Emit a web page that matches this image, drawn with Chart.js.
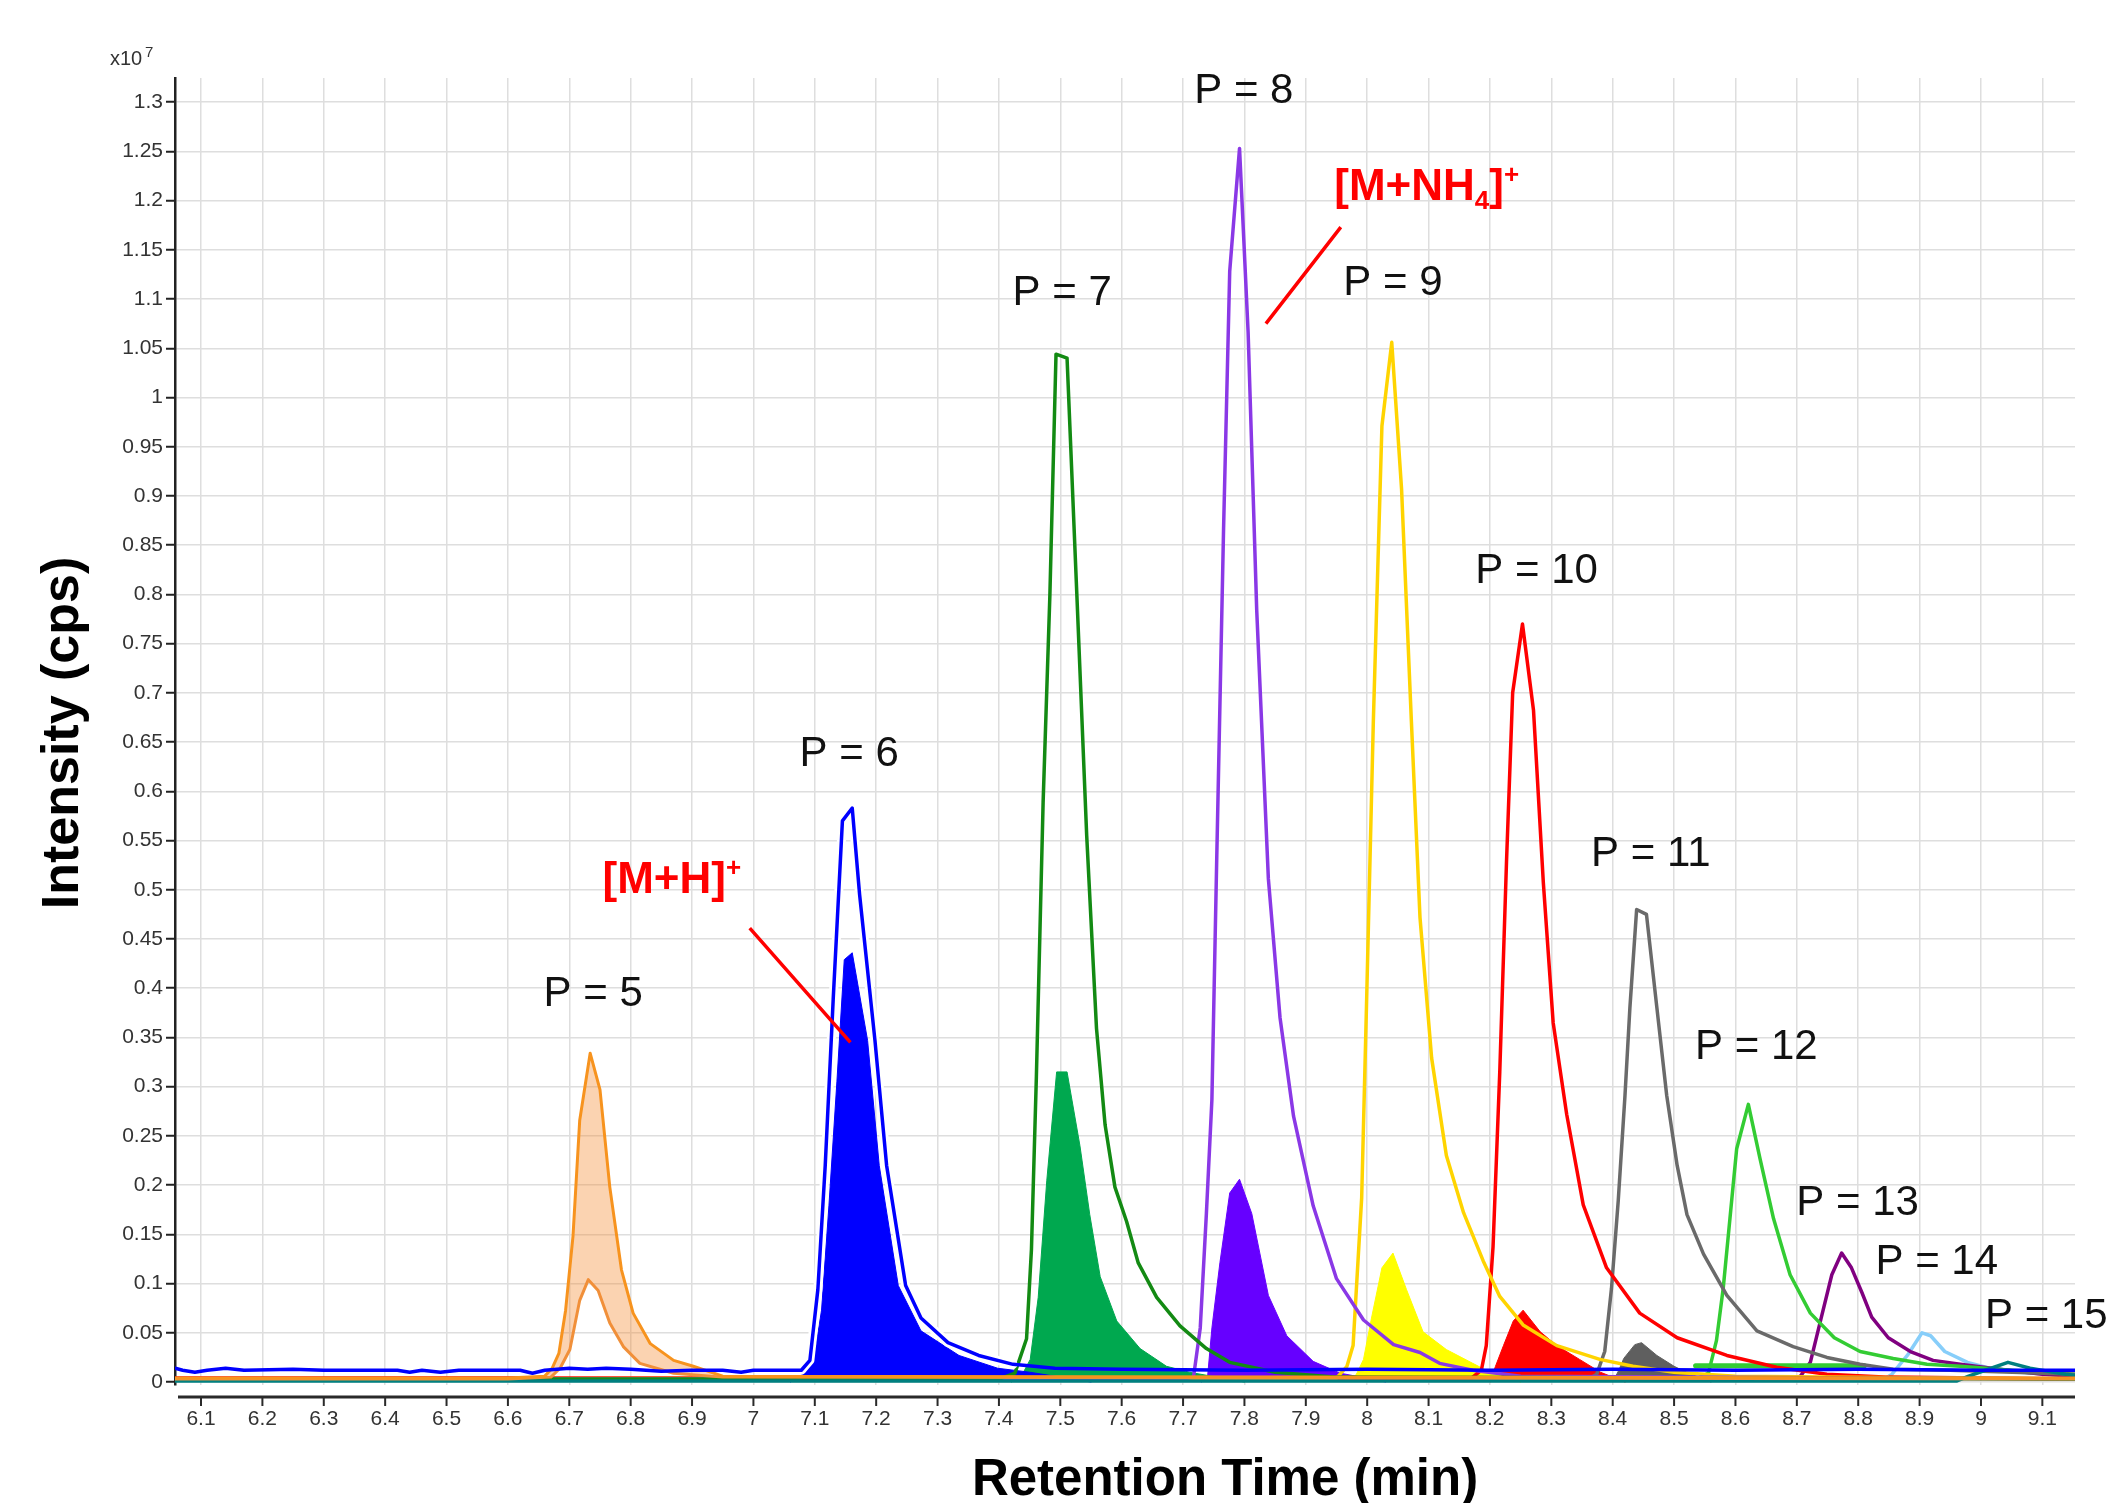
<!DOCTYPE html>
<html lang="en">
<head>
    <meta charset="UTF-8">
    <title>Retention Time Chromatogram</title>
    <script src="https://cdnjs.cloudflare.com/ajax/libs/Chart.js/4.4.1/chart.umd.min.js"></script>
    <style>
        body { margin: 0; padding: 0; background: #fff; }
        .chart-container { width: 2106px; height: 1503px; position: relative; }
    </style>
</head>
<body>
    <div class="chart-container">
        <canvas id="chromChart"></canvas>
    </div>

    <script>
        // axis ticks (intensity in units of 1e7 cps)
        const xTicks = [6.1, 6.2, 6.3, 6.4, 6.5, 6.6, 6.7, 6.8, 6.9, 7, 7.1, 7.2, 7.3, 7.4, 7.5, 7.6, 7.7, 7.8, 7.9, 8, 8.1, 8.2, 8.3, 8.4, 8.5, 8.6, 8.7, 8.8, 8.9, 9, 9.1];
        const yTicks = [0, 0.05, 0.1, 0.15, 0.2, 0.25, 0.3, 0.35, 0.4, 0.45, 0.5, 0.55, 0.6, 0.65, 0.7, 0.75, 0.8, 0.85, 0.9, 0.95, 1, 1.05, 1.1, 1.15, 1.2, 1.25, 1.3];

        // P = 5 (outer and inner trace, shaded between)
        const t5 = [6.058, 6.60, 6.66, 6.672, 6.683, 6.694, 6.706, 6.717, 6.734, 6.750, 6.766, 6.785, 6.804, 6.832, 6.870, 6.902, 6.95, 9.153];
        const v5 = [0.004, 0.004, 0.006, 0.014, 0.029, 0.073, 0.148, 0.266, 0.334, 0.297, 0.198, 0.114, 0.070, 0.039, 0.022, 0.016, 0.006, 0.004];
        const t5b = [6.058, 6.60, 6.67, 6.685, 6.701, 6.717, 6.731, 6.747, 6.766, 6.788, 6.815, 6.842, 6.87, 6.95, 9.153];
        const v5b = [0.003, 0.003, 0.005, 0.014, 0.033, 0.083, 0.104, 0.093, 0.060, 0.036, 0.019, 0.014, 0.009, 0.005, 0.003];

        // P = 6
        const t6 = [6.058, 6.07, 6.09, 6.11, 6.14, 6.17, 6.25, 6.30, 6.42, 6.44, 6.46, 6.49, 6.52, 6.62, 6.64, 6.66, 6.70, 6.73, 6.76, 6.80, 6.85, 6.90, 6.95, 6.98, 7.00, 7.078, 7.092, 7.105, 7.117, 7.130, 7.145, 7.161, 7.173, 7.198, 7.217, 7.248, 7.273, 7.317, 7.367, 7.423, 7.491, 7.6, 7.8, 8.0, 8.2, 8.4, 8.6, 8.8, 9.0, 9.153];
        const v6 = [0.014, 0.012, 0.010, 0.012, 0.014, 0.012, 0.013, 0.012, 0.012, 0.010, 0.012, 0.010, 0.012, 0.012, 0.009, 0.012, 0.014, 0.013, 0.014, 0.013, 0.011, 0.012, 0.012, 0.010, 0.012, 0.012, 0.022, 0.094, 0.220, 0.389, 0.570, 0.583, 0.495, 0.347, 0.220, 0.098, 0.065, 0.040, 0.027, 0.018, 0.014, 0.013, 0.012, 0.013, 0.012, 0.013, 0.012, 0.013, 0.012, 0.012];
        const t6f = [7.06, 7.085, 7.098, 7.111, 7.123, 7.136, 7.148, 7.161, 7.186, 7.205, 7.236, 7.273, 7.335, 7.398, 7.45, 7.55];
        const v6f = [0, 0.010, 0.022, 0.073, 0.179, 0.305, 0.429, 0.436, 0.347, 0.220, 0.098, 0.052, 0.027, 0.014, 0.010, 0];

        // P = 7
        const t7 = [6.058, 7.40, 7.426, 7.445, 7.453, 7.461, 7.472, 7.483, 7.493, 7.511, 7.527, 7.543, 7.559, 7.573, 7.589, 7.608, 7.627, 7.657, 7.695, 7.738, 7.776, 7.85, 7.95, 9.153];
        const v7 = [0.003, 0.003, 0.009, 0.044, 0.135, 0.310, 0.589, 0.799, 1.044, 1.040, 0.799, 0.555, 0.359, 0.261, 0.198, 0.163, 0.121, 0.086, 0.057, 0.034, 0.020, 0.010, 0.005, 0.003];
        const t7f = [7.42, 7.44, 7.451, 7.464, 7.478, 7.494, 7.511, 7.532, 7.548, 7.565, 7.592, 7.630, 7.673, 7.71, 7.80];
        const v7f = [0, 0.010, 0.023, 0.086, 0.205, 0.315, 0.315, 0.240, 0.170, 0.107, 0.062, 0.034, 0.016, 0.010, 0];

        // P = 8
        const t8 = [6.058, 7.70, 7.717, 7.728, 7.738, 7.747, 7.755, 7.766, 7.776, 7.792, 7.806, 7.820, 7.839, 7.858, 7.880, 7.912, 7.950, 7.994, 8.043, 8.086, 8.118, 8.172, 8.25, 9.153];
        const v8 = [0.003, 0.003, 0.005, 0.055, 0.171, 0.287, 0.536, 0.867, 1.128, 1.253, 1.066, 0.784, 0.511, 0.370, 0.270, 0.179, 0.105, 0.063, 0.038, 0.030, 0.019, 0.012, 0.006, 0.003];
        const t8f = [7.73, 7.740, 7.747, 7.760, 7.776, 7.792, 7.812, 7.839, 7.869, 7.912, 7.956, 7.99, 8.03];
        const v8f = [0, 0.006, 0.055, 0.121, 0.192, 0.206, 0.171, 0.088, 0.047, 0.021, 0.009, 0.005, 0];

        // P = 9
        const t9 = [6.058, 7.95, 7.967, 7.977, 7.991, 7.999, 8.010, 8.024, 8.040, 8.056, 8.072, 8.086, 8.105, 8.129, 8.157, 8.189, 8.216, 8.254, 8.309, 8.379, 8.433, 8.50, 8.60, 9.153];
        const v9 = [0.003, 0.004, 0.016, 0.037, 0.187, 0.386, 0.671, 0.971, 1.056, 0.907, 0.671, 0.472, 0.329, 0.230, 0.172, 0.123, 0.087, 0.058, 0.037, 0.023, 0.016, 0.010, 0.006, 0.003];
        const t9f = [7.975, 7.984, 7.994, 8.007, 8.024, 8.042, 8.064, 8.091, 8.129, 8.172, 8.20, 8.25];
        const v9f = [0, 0.010, 0.023, 0.065, 0.116, 0.131, 0.094, 0.051, 0.033, 0.019, 0.010, 0];

        // P = 10
        const t10 = [6.058, 8.17, 8.186, 8.194, 8.205, 8.216, 8.227, 8.237, 8.253, 8.271, 8.287, 8.303, 8.325, 8.352, 8.390, 8.444, 8.505, 8.586, 8.667, 8.749, 8.85, 9.153];
        const v10 = [0.004, 0.004, 0.012, 0.037, 0.137, 0.315, 0.529, 0.700, 0.770, 0.682, 0.507, 0.365, 0.272, 0.180, 0.116, 0.070, 0.045, 0.027, 0.015, 0.008, 0.005, 0.003];
        const t10f = [8.20, 8.209, 8.222, 8.238, 8.254, 8.282, 8.309, 8.346, 8.38, 8.42];
        const v10f = [0, 0.016, 0.037, 0.062, 0.073, 0.051, 0.037, 0.023, 0.010, 0];

        // P = 11
        const t11 = [6.058, 8.36, 8.374, 8.387, 8.398, 8.409, 8.420, 8.428, 8.439, 8.455, 8.472, 8.488, 8.505, 8.521, 8.548, 8.586, 8.635, 8.694, 8.749, 8.803, 8.857, 8.95, 9.153];
        const v11 = [0.003, 0.003, 0.008, 0.031, 0.095, 0.184, 0.291, 0.380, 0.480, 0.475, 0.380, 0.291, 0.220, 0.170, 0.130, 0.088, 0.052, 0.036, 0.025, 0.018, 0.013, 0.012, 0.008];
        const t11f = [8.40, 8.41, 8.418, 8.436, 8.447, 8.472, 8.500, 8.52, 8.56];
        const v11f = [0, 0.012, 0.024, 0.038, 0.040, 0.027, 0.016, 0.010, 0];

        // P = 12
        const t12 = [6.058, 8.54, 8.556, 8.569, 8.580, 8.591, 8.602, 8.621, 8.640, 8.662, 8.689, 8.722, 8.761, 8.803, 8.857, 8.912, 8.966, 9.05, 9.153];
        const v12 = [0.003, 0.004, 0.009, 0.042, 0.095, 0.166, 0.237, 0.282, 0.227, 0.166, 0.109, 0.070, 0.045, 0.031, 0.024, 0.018, 0.016, 0.012, 0.008];
        const t12b = [8.535, 8.81];
        const v12b = [0.0165, 0.0165];

        // P = 13
        const t13 = [6.058, 8.69, 8.706, 8.722, 8.740, 8.757, 8.773, 8.789, 8.806, 8.822, 8.849, 8.885, 8.922, 8.966, 9.03, 9.10, 9.153];
        const v13 = [0.003, 0.003, 0.006, 0.020, 0.066, 0.109, 0.131, 0.116, 0.091, 0.066, 0.045, 0.031, 0.022, 0.018, 0.013, 0.008, 0.006];

        // P = 14
        const t14 = [6.058, 8.84, 8.855, 8.880, 8.904, 8.918, 8.941, 8.978, 9.014, 9.065, 9.153];
        const v14 = [0.002, 0.002, 0.008, 0.027, 0.050, 0.047, 0.031, 0.020, 0.014, 0.010, 0.006];

        // P = 15
        const t15 = [6.058, 8.96, 8.98, 9.007, 9.044, 9.080, 9.138, 9.153];
        const v15 = [0.001, 0.001, 0.006, 0.012, 0.020, 0.014, 0.008, 0.007];

        // peak labels
        const peakLabels = ['P = 5', 'P = 6', 'P = 7', 'P = 8', 'P = 9', 'P = 10', 'P = 11', 'P = 12', 'P = 13', 'P = 14'];
        const peakLabelAt = [[6.739, 0.394], [7.156, 0.637], [7.503, 1.106], [7.799, 1.311], [8.042, 1.116], [8.276, 0.823], [8.462, 0.536], [8.634, 0.340], [8.799, 0.1815], [8.928, 0.1215]];

        const FONT = '"Liberation Sans", Arial, sans-serif';

        function pts(t, v) {
            return t.map((x, i) => ({ x: x, y: v[i] }));
        }

        function lineSet(data, color, width, order) {
            return { data: data, borderColor: color, borderWidth: width, fill: false, order: order };
        }

        function areaSet(t, v, color) {
            return { data: pts(t, v), borderColor: color, borderWidth: 1, backgroundColor: color, fill: 'origin', order: 10 };
        }

        const overlay = {
            id: 'overlay',
            afterDraw(chart) {
                const ctx = chart.ctx;
                const x = chart.scales.x;
                const y = chart.scales.y;
                const area = chart.chartArea;
                ctx.save();

                // detached x axis line with ticks
                const axY = area.bottom + 12;
                ctx.strokeStyle = '#2a2a2a';
                ctx.lineWidth = 3;
                ctx.beginPath();
                ctx.moveTo(area.left + 3, axY);
                ctx.lineTo(area.right, axY);
                ctx.stroke();
                ctx.lineWidth = 2;
                xTicks.forEach(v => {
                    const px = x.getPixelForValue(v);
                    ctx.beginPath();
                    ctx.moveTo(px, axY);
                    ctx.lineTo(px, axY + 9);
                    ctx.stroke();
                });

                // exponent label
                ctx.fillStyle = '#333';
                ctx.textAlign = 'left';
                ctx.textBaseline = 'alphabetic';
                ctx.font = '20px ' + FONT;
                ctx.fillText('x10', 110, 65);
                ctx.font = '15px ' + FONT;
                ctx.fillText('7', 145, 57);

                // axis titles
                ctx.fillStyle = '#000';
                ctx.font = 'bold 51px ' + FONT;
                ctx.textAlign = 'center';
                ctx.fillText('Retention Time (min)', 1225, 1495);
                ctx.save();
                ctx.translate(78, 733);
                ctx.rotate(-Math.PI / 2);
                ctx.font = 'bold 52px ' + FONT;
                ctx.fillText('Intensity (cps)', 0, 0);
                ctx.restore();

                // peak labels
                ctx.font = '42px ' + FONT;
                ctx.textBaseline = 'middle';
                ctx.fillStyle = '#111';
                peakLabels.forEach((s, i) => {
                    const p = peakLabelAt[i];
                    ctx.fillText(s, x.getPixelForValue(p[0]), y.getPixelForValue(p[1]));
                });
                ctx.textAlign = 'left';
                ctx.fillText('P = 15', x.getPixelForValue(9.0065), y.getPixelForValue(0.067));

                // adduct annotations
                ctx.strokeStyle = '#ff0000';
                ctx.lineWidth = 3.5;
                ctx.beginPath();
                ctx.moveTo(x.getPixelForValue(6.994), y.getPixelForValue(0.461));
                ctx.lineTo(x.getPixelForValue(7.158), y.getPixelForValue(0.345));
                ctx.moveTo(x.getPixelForValue(7.957), y.getPixelForValue(1.173));
                ctx.lineTo(x.getPixelForValue(7.835), y.getPixelForValue(1.075));
                ctx.stroke();

                drawAdduct(ctx, [['[M+H]', 0], ['+', -1]], x.getPixelForValue(6.867), y.getPixelForValue(0.513));
                drawAdduct(ctx, [['[M+NH', 0], ['4', 1], [']', 0], ['+', -1]], x.getPixelForValue(8.097), y.getPixelForValue(1.217));

                ctx.restore();
            }
        };

        // pieces: [text, shift] with shift 0 normal, -1 superscript, 1 subscript
        function drawAdduct(ctx, pieces, cx, cy) {
            ctx.fillStyle = '#ff0000';
            ctx.textBaseline = 'alphabetic';
            ctx.textAlign = 'left';
            const big = 'bold 44px ' + FONT;
            const small = 'bold 26px ' + FONT;
            let total = 0;
            pieces.forEach(p => {
                ctx.font = p[1] === 0 ? big : small;
                total += ctx.measureText(p[0]).width;
            });
            let px = cx - total / 2;
            const base = cy + 16;
            pieces.forEach(p => {
                ctx.font = p[1] === 0 ? big : small;
                const dy = p[1] === 0 ? 0 : (p[1] < 0 ? -17 : 9);
                ctx.fillText(p[0], px, base + dy);
                px += ctx.measureText(p[0]).width;
            });
        }

        function createChart() {
            const ctx = document.getElementById('chromChart').getContext('2d');
            const blue = pts(t6, v6);
            // white separation only around the P = 6 peak
            const blueHalo = blue.filter(p => p.x >= 7.07 && p.x <= 7.45);

            new Chart(ctx, {
                type: 'line',
                data: {
                    datasets: [
                        lineSet(blue, '#0000ff', 3.5, 0),
                        lineSet(blueHalo, '#ffffff', 9, 1),
                        Object.assign(lineSet(pts(t5, v5), '#f7931e', 3, 2), { fill: '+1', backgroundColor: 'rgba(244,140,50,0.38)' }),
                        lineSet(pts(t5b, v5b), '#f0913c', 3, 2),
                        lineSet(pts(t15, v15), '#008080', 3.5, 2),
                        lineSet(pts(t7, v7), '#138a13', 3.5, 2),
                        lineSet(pts(t8, v8), '#8a38e6', 3.5, 2),
                        lineSet(pts(t9, v9), '#ffd400', 3.5, 2),
                        lineSet(pts(t10, v10), '#ff0000', 3.5, 2),
                        lineSet(pts(t11, v11), '#6a6a6a', 3.5, 2),
                        lineSet(pts(t12, v12), '#33cc33', 3.5, 2),
                        lineSet(pts(t12b, v12b), '#33cc33', 5, 2),
                        lineSet(pts(t13, v13), '#800080', 3.5, 2),
                        lineSet(pts(t14, v14), '#87cefa', 3.5, 2),
                        areaSet(t6f, v6f, '#0000ff'),
                        areaSet(t7f, v7f, '#00a84f'),
                        areaSet(t8f, v8f, '#6600ff'),
                        areaSet(t9f, v9f, '#ffff00'),
                        areaSet(t10f, v10f, '#ff0000'),
                        areaSet(t11f, v11f, '#5f5f5f')
                    ]
                },
                options: {
                    responsive: true,
                    maintainAspectRatio: false,
                    animation: false,
                    events: [],
                    layout: { padding: { top: 78, right: 31, left: 0, bottom: 0 } },
                    elements: {
                        point: { radius: 0 },
                        line: { tension: 0, borderJoinStyle: 'round', borderCapStyle: 'round' }
                    },
                    plugins: {
                        legend: { display: false },
                        tooltip: { enabled: false }
                    },
                    scales: {
                        x: {
                            type: 'linear',
                            min: 6.0576,
                            max: 9.1532,
                            afterBuildTicks: s => { s.ticks = xTicks.map(v => ({ value: v })); },
                            afterFit: s => { s.height = 118; },
                            grid: { color: '#dedede', lineWidth: 1.5, drawTicks: false },
                            border: { display: false },
                            ticks: {
                                padding: 22,
                                maxRotation: 0,
                                autoSkip: false,
                                color: '#333',
                                font: { family: FONT, size: 21 },
                                callback: v => String(+v.toFixed(2))
                            }
                        },
                        y: {
                            min: -0.003,
                            max: 1.3245,
                            afterBuildTicks: s => { s.ticks = yTicks.map(v => ({ value: v })); },
                            afterFit: s => { s.width = 175; },
                            grid: { color: '#dedede', lineWidth: 1.5, tickColor: '#222', tickLength: 9, tickWidth: 2 },
                            border: { display: true, color: '#222', width: 2.5 },
                            ticks: {
                                padding: 3,
                                autoSkip: false,
                                color: '#333',
                                font: { family: FONT, size: 21 },
                                callback: v => String(+v.toFixed(2))
                            }
                        }
                    }
                },
                plugins: [overlay]
            });
        }

        createChart();
    </script>
</body>
</html>
